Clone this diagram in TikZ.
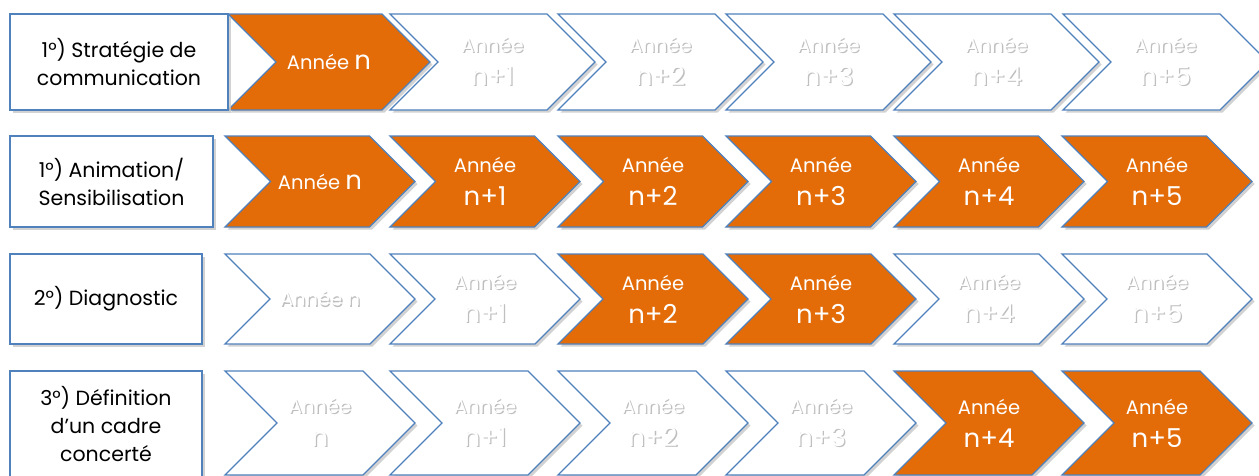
\documentclass[tikz,border=0pt]{standalone}
\usepackage{fontspec}
\setmainfont{Poppins}
\usetikzlibrary{shadows}
\definecolor{orng}{HTML}{E36C09}
\definecolor{bord}{HTML}{4F81BD}
\newcommand\ghost[1]{\leavevmode\rlap{\hspace{1.3pt}\raisebox{-1.3pt}{\textcolor{black!25}{#1}}}\textcolor{white}{#1}}
\newcommand\fyr{\fontsize{19.5}{24}\selectfont}
\newcommand\fbig{\fontsize{26}{30}\selectfont}
\newcommand\nl{\\[9pt]}
\tikzset{
  shad/.style={drop shadow={shadow xshift=2.5pt,shadow yshift=-2.5pt,fill=black!22,opacity=0.8}},
  chevon/.style={draw=bord,line width=1.3pt,line join=miter,fill=orng,shad},
  chevoff/.style={draw=bord,line width=1.3pt,line join=miter,fill=white,shad},
  yr/.style={text=white,font=\fyr,align=center,inner sep=0pt},
  lbl/.style={draw=bord,line width=1.6pt,fill=white,shad,text=black,
    font=\fontsize{20.5}{28}\selectfont,align=center,inner sep=0pt},
}
% name, x0, ytop, h, w, style, text
\newcommand\chevron[7]{%
  \path[#6] (#2,#3) -- ({#2+#5-#4/2},#3) -- ({#2+#5},{#3+#4/2}) --
    ({#2+#5-#4/2},{#3+#4}) -- (#2,{#3+#4}) -- ({#2+#4/2},{#3+#4/2}) -- cycle;
  \node[yr] (#1) at ({#2+#5/2},{#3+#4/2}) {#7};
}
\begin{document}
\begin{tikzpicture}[x=1pt,y=-1pt]
\useasboundingbox[fill=white] (0,0) rectangle (1259,475);
% ---------- Row 1
\chevron{r1a}{228}{14}{96}{202}{chevon}{Année {\fbig n}}
\chevron{r1b}{390}{14}{96}{205}{chevoff}{\ghost{Année}\nl{\fbig\ghost{n+1}}}
\chevron{r1c}{558}{14}{96}{205}{chevoff}{\ghost{Année}\nl{\fbig\ghost{n+2}}}
\chevron{r1d}{726}{14}{96}{205}{chevoff}{\ghost{Année}\nl{\fbig\ghost{n+3}}}
\chevron{r1e}{894}{14}{96}{205}{chevoff}{\ghost{Année}\nl{\fbig\ghost{n+4}}}
\chevron{r1f}{1063}{14}{96}{205}{chevoff}{\ghost{Année}\nl{\fbig\ghost{n+5}}}
\node[lbl,minimum width=218pt,minimum height=96pt] (l1) at (119,62) {1°) Stratégie de\\communication};
% ---------- Row 2
\node[lbl,minimum width=203pt,minimum height=91pt] (l2) at (111.5,181.5) {1°) Animation/\\Sensibilisation};
\chevron{r2a}{225}{136}{91}{190}{chevon}{Année {\fbig n}}
\chevron{r2b}{390}{136}{91}{190}{chevon}{Année\nl{\fbig n+1}}
\chevron{r2c}{558}{136}{91}{190}{chevon}{Année\nl{\fbig n+2}}
\chevron{r2d}{726}{136}{91}{190}{chevon}{Année\nl{\fbig n+3}}
\chevron{r2e}{894}{136}{91}{190}{chevon}{Année\nl{\fbig n+4}}
\chevron{r2f}{1062}{136}{91}{190}{chevon}{Année\nl{\fbig n+5}}
% ---------- Row 3
\node[lbl,minimum width=192pt,minimum height=90pt] (l3) at (106,299) {2°) Diagnostic};
\chevron{r3a}{225}{254}{90}{190}{chevoff}{\ghost{Année n}}
\chevron{r3b}{390}{254}{90}{190}{chevoff}{\ghost{Année}\nl{\fbig\ghost{n+1}}}
\chevron{r3c}{558}{254}{90}{190}{chevon}{Année\nl{\fbig n+2}}
\chevron{r3d}{726}{254}{90}{190}{chevon}{Année\nl{\fbig n+3}}
\chevron{r3e}{894}{254}{90}{190}{chevoff}{\ghost{Année}\nl{\fbig\ghost{n+4}}}
\chevron{r3f}{1062}{254}{90}{190}{chevoff}{\ghost{Année}\nl{\fbig\ghost{n+5}}}
% ---------- Row 4
\node[lbl,minimum width=192pt,minimum height=106pt] (l4) at (106,424) {3°) Définition\\d’un cadre\\concerté};
\chevron{r4a}{225}{371}{104}{190}{chevoff}{\ghost{Année}\nl{\fbig\ghost{n}}}
\chevron{r4b}{390}{371}{104}{190}{chevoff}{\ghost{Année}\nl{\fbig\ghost{n+1}}}
\chevron{r4c}{558}{371}{104}{190}{chevoff}{\ghost{Année}\nl{\fbig\ghost{n+2}}}
\chevron{r4d}{726}{371}{104}{190}{chevoff}{\ghost{Année}\nl{\fbig\ghost{n+3}}}
\chevron{r4e}{894}{371}{104}{190}{chevon}{Année\nl{\fbig n+4}}
\chevron{r4f}{1062}{371}{104}{190}{chevon}{Année\nl{\fbig n+5}}
\end{tikzpicture}
\end{document}
